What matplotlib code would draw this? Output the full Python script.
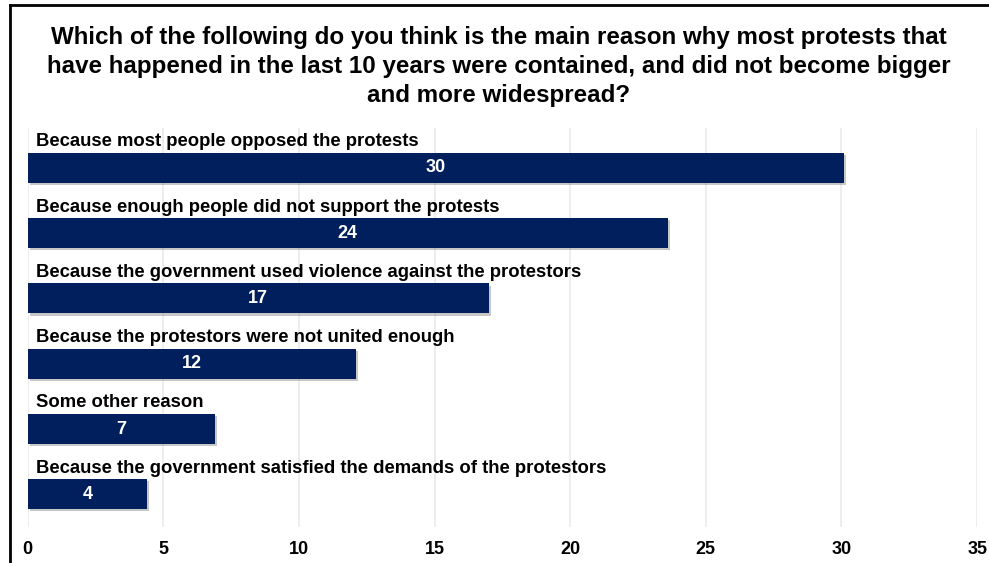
import numpy as np
import matplotlib
matplotlib.use('Agg')
import matplotlib.pyplot as plt
import matplotlib.patheffects as pe
from matplotlib.lines import Line2D

plt.rcParams['font.family'] = ['Liberation Sans', 'DejaVu Sans']

#Survey answers, top to bottom
reasons = [
    'Because most people opposed the protests',
    'Because enough people did not support the protests',
    'Because the government used violence against the protestors',
    'Because the protestors were not united enough',
    'Some other reason',
    'Because the government satisfied the demands of the protestors',
]
shares = [30.1, 23.6, 17.0, 12.1, 6.9, 4.4]
xticks = [0, 5, 10, 15, 20, 25, 30, 35]

title = ('Which of the following do you think is the main reason why most protests that\n'
         'have happened in the last 10 years were contained, and did not become bigger\n'
         'and more widespread?')

navy = '#001f5c'

fig = plt.figure(figsize=(9.89, 5.63), dpi=100)
ax = fig.add_axes([0.028, 0.064, 0.96, 0.7086])

ypos = np.arange(len(reasons))
bars = ax.barh(ypos, shares, height=0.46, color=navy, zorder=3)
for b in bars:
    b.set_path_effects([pe.SimplePatchShadow(offset=(1.5, -1.5), shadow_rgbFace='#606060', alpha=0.35),
                        pe.Normal()])

#Value labels inside the bars and answer text above them
for y, v, r in zip(ypos, shares, reasons):
    ax.text(v / 2, y, f'{v:.0f}', ha='center', va='center', color='white',
            fontsize=13, fontweight='bold', zorder=4)
    ax.text(0.3, y - 0.4, r, ha='left', va='center', color='black',
            fontsize=13.3, fontweight='bold', zorder=4)

ax.set_xlim(0, 35)
ax.set_ylim(5.5, -0.61)
ax.set_xticks(xticks)
ax.set_xticklabels([str(t) for t in xticks], fontsize=13, fontweight='bold')
ax.set_yticks([])
ax.tick_params(axis='x', length=0, pad=10)
ax.grid(axis='x', color='#e8e8e8', linewidth=1.1, zorder=0)
for s in ax.spines.values():
    s.set_visible(False)

fig.text(0.504, 1 - 26 / 563, title, ha='center', va='top', fontsize=17.4,
         fontweight='bold', linespacing=1.32)

#Frame lines along the left and top edges
fig.add_artist(Line2D([10 / 989, 10 / 989], [0, 1 - 5 / 563], transform=fig.transFigure,
                      color='black', linewidth=2))
fig.add_artist(Line2D([10 / 989, 1], [1 - 5 / 563, 1 - 5 / 563], transform=fig.transFigure,
                      color='black', linewidth=2))

fig.savefig('out.png', dpi=100)
